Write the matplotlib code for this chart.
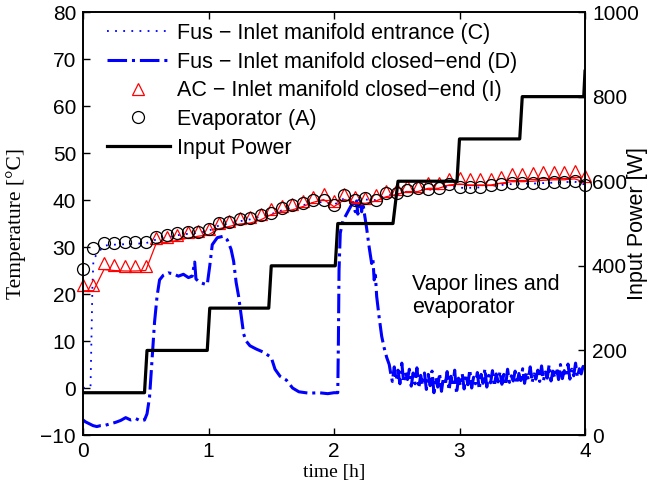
import numpy as np
import matplotlib
matplotlib.use("Agg")
import matplotlib.pyplot as plt

## Data
# markers every 5 min
t_marks = np.arange(49) * 5.0 / 60.0

evap_A = [25.3, 29.8, 30.9, 30.9, 31.1, 31.1, 31.1, 32.1, 32.6, 33.0,
          33.2, 33.2, 33.8, 35.2, 35.4, 35.9, 36.2, 36.8, 37.2, 38.2,
          38.9, 39.3, 39.9, 39.9, 38.9, 41.1, 40.1, 40.4, 39.9, 41.4,
          41.4, 42.1, 42.5, 42.3, 42.5, 43.4, 42.8, 42.8, 42.8, 43.2,
          43.4, 43.7, 43.7, 43.6, 43.7, 43.9, 43.9, 44.1, 43.2]

ac_I_markers = [21.9, 21.9, 26.7, 26.1, 26.0, 26.0, 26.0, 32.0, 32.2, 32.6,
                33.1, 33.5, 33.8, 35.2, 35.6, 36.1, 36.3, 37.0, 38.1, 38.8,
                39.1, 39.8, 40.7, 41.3, 39.8, 41.3, 40.7, 40.5, 41.0, 41.9,
                42.4, 43.0, 43.0, 43.7, 43.7, 44.4, 44.6, 44.4, 44.4, 44.4,
                45.0, 45.5, 45.5, 45.7, 45.9, 46.0, 46.0, 46.2, 45.2]

ac_I_line = [20.7, 20.7, 25.2, 25.0, 24.9, 24.9, 25.0, 30.8, 31.0, 31.4,
             31.9, 32.3, 32.6, 33.9, 34.4, 34.9, 35.1, 35.8, 36.9, 37.6,
             37.9, 38.6, 39.5, 40.1, 38.6, 40.1, 39.5, 39.3, 39.8, 40.7,
             41.2, 41.8, 41.8, 42.5, 42.5, 43.2, 43.4, 43.2, 43.2, 43.2,
             43.6, 43.9, 43.9, 44.0, 44.2, 44.3, 44.3, 44.5, 43.8]

fus_C_start_t = [0.0, 0.06, 0.075]
fus_C_start = [0.0, 0.3, 21.5]
fus_C = [27.5, 30.3, 30.5, 30.6, 30.7, 30.8, 31.6, 32.0, 32.5, 32.8,
         33.0, 33.4, 34.6, 35.0, 35.5, 35.9, 36.5, 37.0, 37.8, 38.4,
         38.9, 39.4, 39.6, 39.0, 40.4, 40.0, 40.1, 40.0, 41.0, 41.2,
         41.8, 42.1, 42.2, 42.3, 43.0, 42.6, 42.6, 42.7, 43.0, 43.2,
         43.4, 43.5, 43.5, 43.6, 43.7, 43.8, 43.9, 43.3]

fus_D_t = [0.0, 0.02, 0.05, 0.08, 0.11, 0.14, 0.18, 0.22, 0.26, 0.30,
           0.34, 0.38, 0.42, 0.46, 0.49, 0.51, 0.53, 0.55, 0.57, 0.59,
           0.61, 0.64, 0.68, 0.72, 0.76, 0.80, 0.84, 0.87, 0.89, 0.90,
           0.93, 0.96, 0.99, 1.01, 1.03, 1.07, 1.12, 1.15, 1.18, 1.20,
           1.22, 1.24, 1.26, 1.28, 1.30, 1.33, 1.38, 1.44, 1.50, 1.53,
           1.57, 1.62, 1.67, 1.72, 1.80, 1.88, 1.95, 2.00, 2.03, 2.035,
           2.04, 2.05, 2.07, 2.09, 2.12, 2.15, 2.17, 2.18, 2.19, 2.20,
           2.21, 2.22, 2.23, 2.24, 2.26, 2.28, 2.30, 2.31, 2.32, 2.33,
           2.34, 2.36, 2.38, 2.40, 2.42, 2.44]
fus_D = [-6.8, -7.2, -7.6, -8.0, -8.2, -8.0, -7.9, -7.6, -7.3, -6.9,
         -6.3, -6.8, -6.5, -7.0, -6.8, -5.5, -2.0, 6.0, 14.0, 19.5,
         23.0, 24.0, 24.5, 24.3, 23.8, 24.2, 23.5, 23.8, 26.8, 23.2,
         22.5, 22.2, 22.0, 26.0, 30.5, 32.0, 32.3, 31.5, 29.5, 27.0,
         22.5, 19.5, 15.5, 11.5, 10.0, 9.0, 8.3, 7.6, 6.5, 4.0,
         2.5, 1.7, 0.0, -0.8, -1.1, -1.0, -1.2, -1.0, -1.0, 10.0,
         25.0, 33.0, 35.5, 36.5, 38.0, 39.5, 37.5, 39.8, 37.0, 38.5,
         40.0, 37.5, 39.5, 37.5, 34.0, 30.0, 26.5, 27.5, 23.0, 24.0,
         19.5, 15.0, 11.0, 8.5, 6.5, 5.0]

# noisy tail of the closed-end reading, 2.45 h to 4 h
fus_D_tail = [3.4, 1.4, 4.5, 1.7, 3.8, 0.9, 5.3, 1.2, 3.3, 1.8,
              4.0, 0.4, 3.2, 0.9, 4.3, 0.0, 2.7, 0.6, 3.2, -0.3,
              2.9, 0.5, 3.6, -1.0, 2.3, 0.2, 3.1, -0.7, 2.2, 0.6,
              3.5, -0.5, 2.5, 0.4, 3.8, -1.2, 2.1, 0.5, 3.0, -0.2,
              2.8, 0.7, 3.9, 0.0, 2.3, 0.9, 3.3, -0.3, 2.9, 1.0,
              4.1, 0.2, 2.7, 1.1, 3.7, 0.4, 3.0, 1.3, 3.5, 0.8,
              2.9, 0.6, 4.0, 1.2, 2.6, 1.5, 3.6, 0.9, 3.1, 1.6,
              4.1, 1.0, 3.3, 1.8, 4.5, 1.2, 3.0, 1.9, 3.8, 1.4,
              4.7, 1.6, 3.4, 2.1, 4.9, 1.5, 3.6, 2.2, 4.3, 1.8,
              5.0, 2.0, 3.7, 2.4, 5.1, 1.9, 4.0, 2.6, 5.3, 2.3,
              4.1, 3.0, 4.6, 3.4]
fus_D_tail_t = np.linspace(2.45, 4.0, len(fus_D_tail))

power_t = [0.0, 0.49, 0.51, 0.99, 1.01, 1.48, 1.50, 1.99, 2.01, 2.03,
           2.47, 2.51, 2.98, 3.00, 3.48, 3.50, 3.99, 4.00]
power_W = [100, 100, 200, 200, 300, 300, 400, 400, 400, 500,
           500, 600, 600, 700, 700, 800, 800, 860]

## Plot
plt.rcParams['font.family'] = ['Liberation Sans', 'DejaVu Sans']
plt.rcParams['font.size'] = 15

fig = plt.figure(figsize=(6.5, 4.93), dpi=100)
ax = fig.add_axes([0.1277, 0.1176, 0.7723, 0.858])
ax2 = ax.twinx()

hC, = ax.plot(fus_C_start_t + list(t_marks[1:]), fus_C_start + fus_C,
              color='blue', lw=1.3, ls=(0, (1, 3.5)),
              label='Fus \u2212 Inlet manifold entrance (C)')
hD, = ax.plot(list(fus_D_t) + list(fus_D_tail_t), fus_D + fus_D_tail,
              color='blue', lw=2.2, ls='-.',
              label='Fus \u2212 Inlet manifold closed\u2212end (D)')
ax.plot(t_marks, ac_I_line, color='red', lw=0.9)
hI, = ax.plot(t_marks, ac_I_markers, ls='none', marker='^', ms=8.6,
              mfc='none', mec='red', mew=0.9, clip_on=False,
              label='AC \u2212 Inlet manifold closed\u2212end (I)')
hA, = ax.plot(t_marks, evap_A, ls='none', marker='o', ms=8.6,
              mfc='none', mec='black', mew=0.9, clip_on=False,
              label='Evaporator (A)')
hP, = ax2.plot(power_t, power_W, color='black', lw=2.3, label='Input Power')

ax.set_xlim(0, 4)
ax.set_ylim(-10, 80)
ax.set_xticks([0, 1, 2, 3, 4])
ax.set_yticks(range(-10, 81, 10))
ax2.set_ylim(0, 1000)
ax2.set_yticks(range(0, 1001, 200))

ax.tick_params(direction='in', length=5, width=1, pad=5, top=True, right=False)
ax2.tick_params(direction='in', length=5, width=1, pad=5)
for s in ax.spines.values():
    s.set_linewidth(1.2)
for s in ax2.spines.values():
    s.set_linewidth(1.2)

ax.set_xlabel('time [h]', family='Liberation Serif', fontsize=14, labelpad=2)
ax.set_ylabel('Temperature [\u00b0C]', family='Liberation Serif', fontsize=15.5)
ax.yaxis.set_label_coords(-0.113, 0.5)
ax2.set_ylabel('Input Power [W]', fontsize=15.5)
ax2.yaxis.set_label_coords(1.084, 0.5)

ax.text(2.62, 19.6, 'Vapor lines and\nevaporator', fontsize=15.5,
        ha='left', va='center', linespacing=1.1)

ax2.legend(handles=[hC, hD, hI, hA, hP], loc='upper left', fontsize=15.5,
           bbox_to_anchor=(0.03, 0.995), frameon=False, handlelength=2.95,
           handletextpad=0.3, labelspacing=0.36, borderaxespad=0.0)

fig.savefig('out.png', dpi=100)
